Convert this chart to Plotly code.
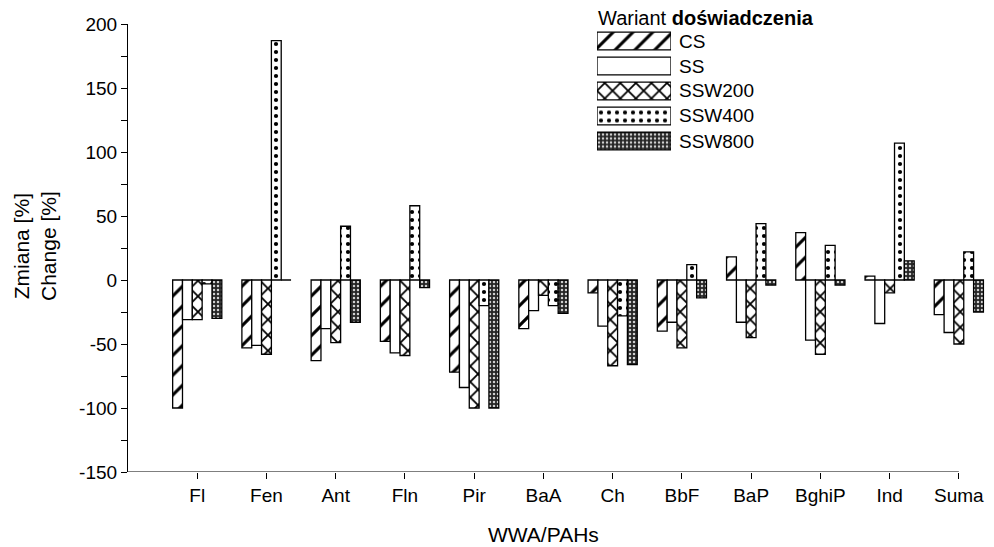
import plotly.graph_objects as go

categories = ["Fl", "Fen", "Ant", "Fln", "Pir", "BaA", "Ch", "BbF", "BaP", "BghiP", "Ind", "Suma"]
series_names = ["CS", "SS", "SSW200", "SSW400", "SSW800"]
CS = [-100, -53, -63, -48, -72, -38, -10, -40, 18, 37, 3, -27]
SS = [-31, -51, -38, -57, -84, -24, -36, -33, -33, -47, -34, -41]
SSW200 = [-31, -58, -49, -59, -100, -12, -67, -53, -45, -58, -10, -50]
SSW400 = [-3, 187, 42, 58, -20, -20, -28, 12, 44, 27, 107, 22]
SSW800 = [-30, 0, -33, -6, -100, -26, -66, -14, -4, -4, 15, -25]
y_ticks = [-150, -100, -50, 0, 50, 100, 150, 200]
y_tick_labels = ["-150", "-100", "-50", "0", "50", "100", "150", "200"]

values = [CS, SS, SSW200, SSW400, SSW800]
patterns = [
    dict(shape="/", fgcolor="black", bgcolor="white", size=14, solidity=0.22, fgopacity=1),
    dict(shape="", fgcolor="black", bgcolor="white"),
    dict(shape="x", fgcolor="black", bgcolor="white", size=11, solidity=0.3, fgopacity=1),
    dict(shape=".", fgcolor="black", bgcolor="white", size=8, solidity=0.22, fgopacity=1),
    dict(shape=".", fgcolor="#d0d0d0", bgcolor="#262626", size=4, solidity=0.3, fgopacity=1),
]

W, H = 994, 547
L, R, T, B = 128, 4, 24, 75
PW, PH = W - L - R, H - T - B

def px(x):
    return (x - L) / PW

def py(y):
    return 1 - (y - T) / PH

fig = go.Figure()
xs = list(range(len(categories)))
for i, (name, vals) in enumerate(zip(series_names, values)):
    fig.add_trace(go.Bar(
        x=xs, y=vals, name=name, offsetgroup=f"g{i}", cliponaxis=False,
        marker=dict(color="white", pattern=patterns[i], line=dict(color="black", width=1.3)),
        showlegend=False, xaxis="x", yaxis="y",
    ))

# Legend swatches drawn as bars on a small auxiliary axis
for i, name in enumerate(series_names):
    fig.add_trace(go.Bar(
        x=[1], y=[i], base=0, orientation="h", offsetgroup="leg",
        marker=dict(color="white", pattern=patterns[i], line=dict(color="black", width=1.3)),
        showlegend=False, xaxis="x2", yaxis="y2", hoverinfo="skip",
    ))

font = "Arial, Liberation Sans, sans-serif"
fig.update_layout(
    width=W, height=H,
    margin=dict(l=L, r=R, t=T, b=B),
    paper_bgcolor="white", plot_bgcolor="white",
    barmode="group", bargap=0.29, bargroupgap=0,
    font=dict(family=font, color="black", size=19),
    xaxis=dict(
        range=[-1, 11.45], tickvals=xs, ticktext=categories,
        showline=False, showgrid=False, zeroline=False,
        ticks="outside", ticklen=6, tickcolor="black", tickwidth=1,
        tickfont=dict(size=19),
    ),
    yaxis=dict(
        range=[-150, 200], tickvals=y_ticks, ticktext=y_tick_labels,
        showgrid=False, zeroline=False,
        showline=True, linecolor="black", linewidth=1.2,
        ticks="outside", ticklen=6, tickcolor="black",
        minor=dict(tickvals=[-125, -75, -25, 25, 75, 125, 175], ticks="outside",
                   ticklen=6, tickcolor="black"),
        tickfont=dict(size=19),
    ),
    xaxis2=dict(domain=[px(597), px(671)], range=[0, 1], anchor="y2",
                visible=False, fixedrange=True),
    yaxis2=dict(domain=[py(153.5), py(28.5)], range=[4.5, -0.5], anchor="x2",
                visible=False, fixedrange=True),
    showlegend=False,
)

# x axis baseline (ends at the last category tick)
fig.add_shape(type="line", xref="x", yref="y", x0=-1, x1=11, y0=-150, y1=-150,
              line=dict(color="black", width=1.2))

# legend title and labels
fig.add_annotation(text="Wariant <b>doświadczenia</b>", xref="paper", yref="paper",
                   x=px(596), y=py(18), xanchor="left", yanchor="middle",
                   showarrow=False, font=dict(size=20))
for i, name in enumerate(series_names):
    fig.add_annotation(text=name, xref="paper", yref="paper",
                       x=px(677), y=py(41 + 25 * i), xanchor="left", yanchor="middle",
                       showarrow=False, font=dict(size=19))

# axis titles
fig.add_annotation(text="Zmiana [%]<br>Change [%]", xref="paper", yref="paper",
                   x=px(35), y=py(246), textangle=-90, showarrow=False,
                   xanchor="center", yanchor="middle", font=dict(size=21))
fig.add_annotation(text="WWA/PAHs", xref="paper", yref="paper",
                   x=px(543), y=py(534), showarrow=False,
                   xanchor="center", yanchor="middle", font=dict(size=21))

fig.write_html("out.html", config={"displayModeBar": False},
               post_script="document.body.style.margin='0';")
